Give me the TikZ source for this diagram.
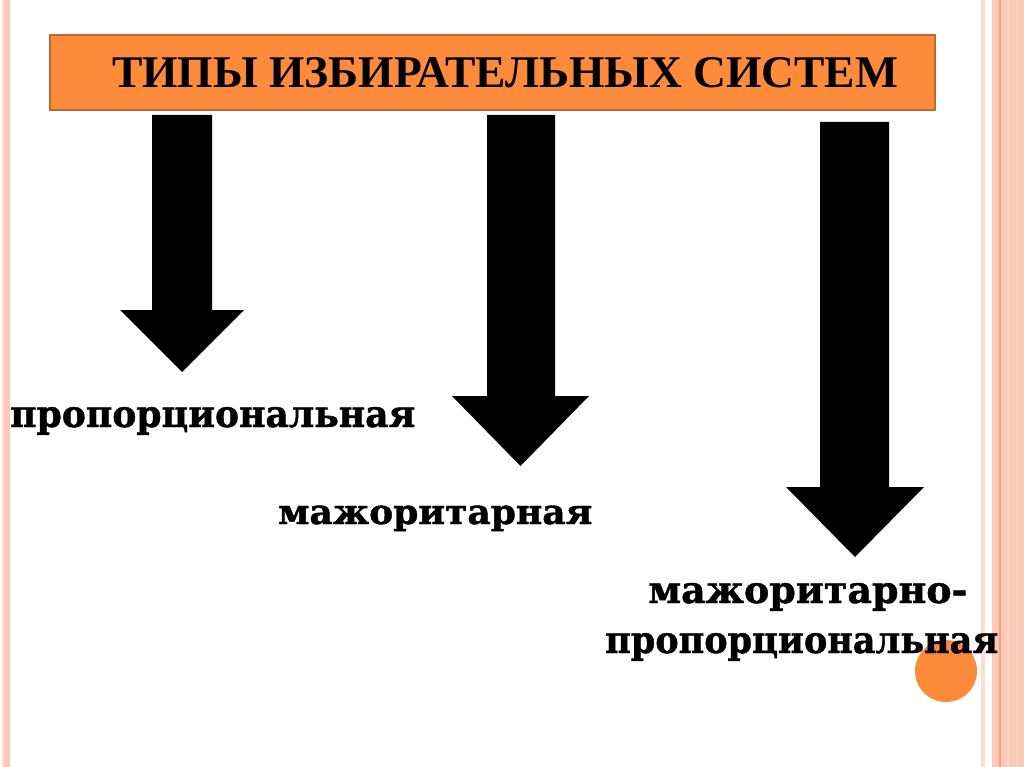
\documentclass[tikz,border=0pt]{standalone}
\usepackage{fontspec}
\usepackage{graphicx}
\setmainfont{Liberation Serif}
\newfontfamily\lowfont[BoldFeatures={FakeBold=1.2}]{DejaVu Serif}
\definecolor{boxorange}{RGB}{253,139,59}
\definecolor{boxedge}{RGB}{192,104,44}
\definecolor{stripepink}{RGB}{251,201,181}
\definecolor{stripepale}{RGB}{252,222,210}
\definecolor{stripeline}{RGB}{244,160,124}
\tikzset{
  titlebox/.style={fill=boxorange, draw=boxedge, line width=1.6pt},
  blockarrow/.style={fill=black, draw=none},
  labeltext/.style={anchor=base west, inner sep=0pt, font=\lowfont\bfseries},
  dot/.style={circle, fill=boxorange, draw=none, minimum size=62pt, inner sep=0pt}
}
\newcommand{\downblock}[7]{% shaft left, shaft right, top, head y, head left, head right, tip y
  \fill[blockarrow] (#1,#3) -- (#2,#3) -- (#2,#4) -- (#6,#4) -- ({(#5+#6)/2},#7) -- (#5,#4) -- (#1,#4) -- cycle;}
\begin{document}
\begin{tikzpicture}[x=1pt,y=-1pt]
\useasboundingbox (0,0) rectangle (1024,767);
\fill[white] (0,0) rectangle (1024,767);
% left stripes
\fill[stripepale] (2,0) rectangle (4,767);
\fill[stripepink] (4,0) rectangle (10,767);
% right stripes
\fill[stripepale] (981,0) rectangle (985,767);
\fill[stripepink] (992,0) rectangle (1024,767);
\fill[stripeline] (999,0) rectangle (1001,767);
\fill[stripepale!60!stripepink] (1007,0) rectangle (1009,767);
\fill[stripepale!60!stripepink] (1016,0) rectangle (1018,767);
% title box
\node[titlebox, minimum width=885pt, minimum height=75pt, anchor=north west] (title) at (49,34) {};
\node[anchor=base west, inner sep=0pt] (titletext) at (112,88)
  {\resizebox{786pt}{30pt}{\bfseries ТИПЫ ИЗБИРАТЕЛЬНЫХ СИСТЕМ}};
% arrows
\downblock{152}{212}{115}{310}{120}{244}{372}
\downblock{487}{555}{115}{396}{452}{589}{466}
\downblock{820}{889}{122}{487}{786}{924}{557}
% circle
\node[dot] (circ) at (946,671) {};
% labels
\node[labeltext] (prop) at (10,427) {\resizebox{405pt}{20pt}{пропорциональная}};
\node[labeltext] (major) at (278,524) {\resizebox{314pt}{18.5pt}{мажоритарная}};
\node[labeltext] (mixa) at (648,603) {\resizebox{319pt}{20pt}{мажоритарно-}};
\node[labeltext] (mixb) at (605,653) {\resizebox{393pt}{20pt}{пропорциональная}};
\end{tikzpicture}
\end{document}
